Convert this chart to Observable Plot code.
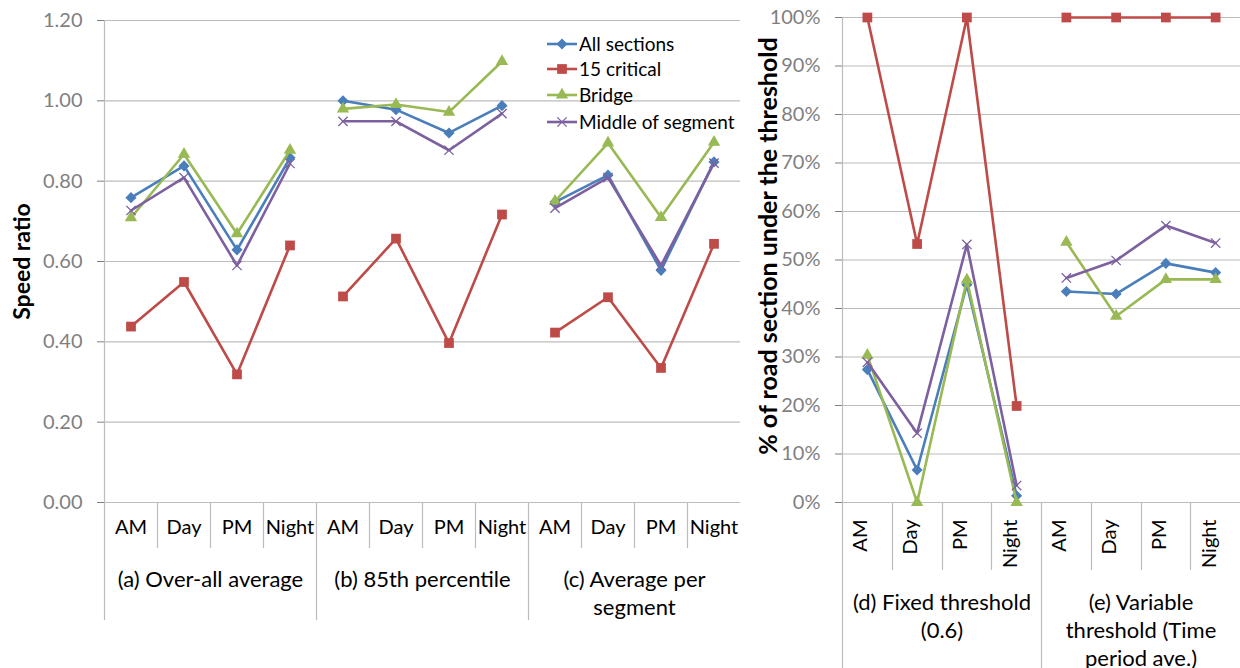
<!DOCTYPE html>
<html><head><meta charset="utf-8">
<script src="https://cdn.jsdelivr.net/npm/d3@7"></script>
<script src="https://cdn.jsdelivr.net/npm/@observablehq/plot@0.6"></script>
<style>
body{margin:0;background:#fff;}
#wrap{position:relative;width:1240px;height:668px;overflow:hidden;font-family:Lato,sans-serif;background:#fff;}
#left{position:absolute;top:0;left:0;width:740px;height:668px;}
#right{position:absolute;top:0;left:740px;width:500px;height:668px;}
</style></head><body>
<div id="wrap"><div id="left"></div><div id="right"></div></div>
<script>
// ---- data ----
const periods = ["AM", "Day", "PM", "Night"];
const speedGroups = ["(a) Over-all average", "(b) 85th percentile", "(c) Average per\nsegment"];
const pctGroups = ["(d) Fixed threshold\n(0.6)", "(e) Variable\nthreshold (Time\nperiod ave.)"];
const series = ["All sections", "15 critical", "Bridge", "Middle of segment"];
const colors = ["#4a7ebb", "#be4b48", "#98b954", "#7d60a0"];
const symbolNames = ["diamond2", "square", "triangle", "times"];
const speedTicks = [0, 0.2, 0.4, 0.6, 0.8, 1.0, 1.2];
const pctTicks = [0, 0.1, 0.2, 0.3, 0.4, 0.5, 0.6, 0.7, 0.8, 0.9, 1.0];
const speedTitle = "Speed ratio";
const pctTitle = "% of road section under the threshold";

// speed ratio: (a) AM Day PM Night, (b) ..., (c) ...
const speedAll      = [0.759, 0.838, 0.629, 0.858,  1.000, 0.978, 0.920, 0.988,  0.748, 0.815, 0.578, 0.848];
const speedCritical = [0.438, 0.549, 0.319, 0.640,  0.513, 0.657, 0.397, 0.717,  0.423, 0.511, 0.335, 0.644];
const speedBridge   = [0.709, 0.867, 0.669, 0.877,  0.980, 0.991, 0.972, 1.098,  0.750, 0.895, 0.710, 0.897];
const speedMiddle   = [0.727, 0.809, 0.590, 0.844,  0.949, 0.949, 0.877, 0.968,  0.733, 0.809, 0.590, 0.845];

// % under threshold: (d) AM Day PM Night, (e) ...
const pctAll      = [0.274, 0.067, 0.449, 0.014,  0.435, 0.430, 0.493, 0.474];
const pctCritical = [1.000, 0.533, 1.000, 0.199,  1.000, 1.000, 1.000, 1.000];
const pctBridge   = [0.304, 0.000, 0.459, 0.000,  0.537, 0.384, 0.460, 0.460];
const pctMiddle   = [0.289, 0.143, 0.532, 0.035,  0.463, 0.499, 0.571, 0.535];

// ---- build tables ----
function table(seriesValues) {
  const rows = [];
  seriesValues.forEach((vals, si) => vals.forEach((v, i) => rows.push({
    series: series[si], si, idx: i, group: Math.floor(i / 4), period: periods[i % 4], value: v
  })));
  return rows;
}
const speedRows = table([speedAll, speedCritical, speedBridge, speedMiddle]);
const pctRows = table([pctAll, pctCritical, pctBridge, pctMiddle]);
const speedCats = speedGroups.flatMap((g, gi) => periods.map((p, pi) => ({idx: gi * 4 + pi, period: p})));
const pctCats = pctGroups.flatMap((g, gi) => periods.map((p, pi) => ({idx: gi * 4 + pi, period: p})));

const d3Symbols = {diamond2: d3.symbolDiamond2, square: d3.symbolSquare, triangle: d3.symbolTriangle, times: d3.symbolTimes};
const radii = [5.0, 5.5, 4.6, 4.3];
const gridColor = "#bcbcbc";

function seriesMarks(rows) {
  const marks = [];
  series.forEach((s, si) => {
    const data = rows.filter(d => d.si === si);
    marks.push(Plot.line(data, {x: d => d.idx + 0.5, y: "value", z: "group", stroke: colors[si],
      strokeWidth: 2.6, strokeLinejoin: "round", strokeLinecap: "round"}));
    if (symbolNames[si] === "times") {
      marks.push(Plot.dot(data, {x: d => d.idx + 0.5, y: "value", symbol: () => "times", r: radii[si],
        stroke: colors[si], strokeWidth: 1.3, fill: "none"}));
    } else {
      marks.push(Plot.dot(data, {x: d => d.idx + 0.5, y: "value", symbol: () => symbolNames[si], r: radii[si],
        fill: colors[si], stroke: "none"}));
    }
  });
  return marks;
}

const baseStyle = {fontFamily: "Lato, sans-serif", fontSize: "20px", color: "#7f7f7f", background: "transparent", overflow: "visible"};

// ---- left chart ----
const left = Plot.plot({
  width: 740, height: 668, marginLeft: 104, marginRight: 0, marginTop: 20, marginBottom: 166,
  style: baseStyle,
  x: {type: "linear", domain: [0, 12], axis: null},
  y: {domain: [0, 1.2], ticks: speedTicks, tickFormat: d3.format(".2f"), tickSize: 7, tickPadding: 15, label: null},
  symbol: {type: "identity"},
  marks: [
    Plot.ruleY(speedTicks, {stroke: gridColor, strokeWidth: 1.2}),
    Plot.ruleX([0], {stroke: gridColor, strokeWidth: 1.2}),
    ...seriesMarks(speedRows),
    Plot.text(speedCats, {x: d => d.idx + 0.5, text: "period", frameAnchor: "bottom", dy: 31, fontSize: 20, fill: "#000"}),
    Plot.text(speedGroups, {x: (d, i) => i * 4 + 2, text: d => d, frameAnchor: "bottom", lineAnchor: "top", dy: 65, lineHeight: 1.27, fontSize: 22, fill: "#000"}),
    Plot.text([speedTitle], {text: d => d, frameAnchor: "left", textAnchor: "middle", dx: -82, rotate: -90, fontSize: 23, fontWeight: "bold", fill: "#000"})
  ]
});
document.getElementById("left").appendChild(left);

// ---- right chart ----
const right = Plot.plot({
  width: 500, height: 668, marginLeft: 102, marginRight: 0, marginTop: 17, marginBottom: 166,
  style: baseStyle,
  x: {type: "linear", domain: [0, 8], axis: null},
  y: {domain: [0, 1], ticks: pctTicks, tickFormat: d3.format(".0%"), tickSize: 7, tickPadding: 15, label: null},
  symbol: {type: "identity"},
  marks: [
    Plot.ruleY(pctTicks, {stroke: gridColor, strokeWidth: 1.2}),
    Plot.ruleX([0], {stroke: gridColor, strokeWidth: 1.2}),
    ...seriesMarks(pctRows),
    Plot.text(pctCats, {x: d => d.idx + 0.5, text: "period", frameAnchor: "bottom", dy: 17, rotate: -90, textAnchor: "end", fontSize: 20, fill: "#000"}),
    Plot.text(pctGroups, {x: (d, i) => i * 4 + 2, text: d => d, frameAnchor: "bottom", lineAnchor: "top", dy: 88, lineHeight: 1.27, fontSize: 22, fill: "#000"}),
    Plot.text([pctTitle], {text: d => d, frameAnchor: "left", textAnchor: "middle", dx: -74, dy: -14, rotate: -90, fontSize: 25, fontWeight: "bold", fill: "#000"})
  ]
});
document.getElementById("right").appendChild(right);

// ---- category separators below the axis (layout) ----
function separators(plot, n, shortLen, longLen) {
  const svg = d3.select(plot);
  const xs = plot.scale("x").apply, y0 = plot.scale("y").apply(0);
  const g = svg.append("g").attr("stroke", gridColor).attr("stroke-width", 1.2);
  for (let k = 0; k < n; k++) {
    const x = Math.round(xs(k)) + 0.5;
    g.append("line").attr("x1", x).attr("x2", x).attr("y1", y0).attr("y2", y0 + (k % 4 === 0 ? longLen : shortLen));
  }
}
separators(left, 12, 46, 118);
separators(right, 8, 68, 170);

// ---- legend (inside left chart) ----
(function legend() {
  const svg = d3.select(left);
  const g = svg.append("g");
  const rowsY = [44, 69, 95, 122];
  series.forEach((s, si) => {
    const y = rowsY[si];
    g.append("line").attr("x1", 547).attr("x2", 577).attr("y1", y).attr("y2", y)
      .attr("stroke", colors[si]).attr("stroke-width", 2.6);
    const sym = d3.symbol().type(d3Symbols[symbolNames[si]]).size(Math.PI * radii[si] * radii[si]);
    const p = g.append("path").attr("d", sym()).attr("transform", `translate(562,${y})`);
    if (symbolNames[si] === "times") p.attr("fill", "none").attr("stroke", colors[si]).attr("stroke-width", 1.3);
    else p.attr("fill", colors[si]);
    g.append("text").attr("x", 579).attr("y", y).attr("dy", "0.35em").attr("text-anchor", "start")
      .attr("fill", "#000").attr("font-size", 19).text(s);
  });
})();
</script>
</body></html>
